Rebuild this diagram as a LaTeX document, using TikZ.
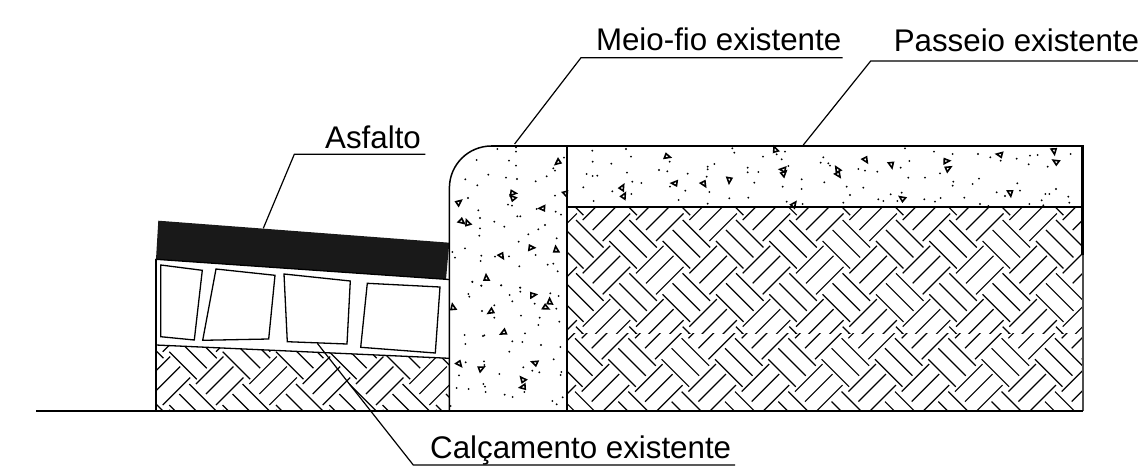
\documentclass[tikz,border=0pt]{standalone}
\usepackage{fontspec}
\setmainfont{Liberation Sans}
\tikzset{
  thinline/.style={line width=1.3pt,line cap=round,line join=round},
  wall/.style={line width=1.5pt,line join=round},
  heavy/.style={line width=2.6pt},
  leaderline/.style={line width=1.2pt,line join=miter},
  hatchline/.style={line width=1.2pt,line cap=butt},
  label/.style={inner sep=0pt,anchor=base west,font=\fontsize{31.3}{36}\selectfont},
  paver/.style={line width=1.3pt,line join=miter},
}
\newcommand{\hbone}[6]{%
  % tx ty imin imax jmin jmax
  \foreach \i in {#3,...,#4}{\foreach \j in {#5,...,#6}{%
    \pgfmathsetmacro{\px}{#1+\i*53.33}\pgfmathsetmacro{\py}{#2+\j*53.33}%
    \foreach \dx/\dy in {0/0,10/-11,20/-21}{\draw[hatchline] ({\px+\dx},{\py+\dy}) -- ++(27.5,27.5);}%
    \foreach \dx/\dy in {-26.6/-21,-16.6/-11,-6.6/0}{\draw[hatchline] ({\px+\dx},{\py+\dy}) -- ++(27.5,-27.5);}%
  }}}
\newcommand{\speckle}[3]{% ox oy list
  \foreach \a/\b in {#3}{\fill ({#1+\a/3},{#2+\b/3}) circle[radius=1.05pt];}}
\newcommand{\aggregate}[3]{%
  \foreach \a/\b in {#3}{%
    \pgfmathsetmacro{\r}{mod(\a*7+\b*13,360)}%
    \draw[line width=1.6pt,line join=miter] ({#1+\a/3},{#2+\b/3}) ++(\r:3.6) -- ++({\r+150}:6.2) -- ++({\r+270}:5) -- cycle;}}
\begin{document}
\begin{tikzpicture}[x=1pt,y=-1pt]
\useasboundingbox (0,0) rectangle (1138,474);
% --- hatch, right side
\begin{scope}
  \clip (567,207) rectangle (1082,333);
  \hbone{929.3}{241}{-8}{3}{-1}{3}
\end{scope}
\begin{scope}
  \clip (567,333) rectangle (1082,411);
  \hbone{928.3}{252.6}{-8}{3}{0}{4}
\end{scope}
% --- hatch, left side
\begin{scope}
  \clip (156,345) -- (449.3,358.3) -- (449.3,411) -- (156,411) -- cycle;
  \hbone{169.3}{351.7}{-1}{6}{-1}{2}
\end{scope}
% --- asphalt
\fill[black!90] (158.3,220.7) -- (449.3,242.7) -- (446,279.3) -- (156,259.3) -- cycle;
% --- paver bed
\draw[thinline] (156,259.3) -- (156,411);
\draw[thinline] (156,345) -- (449.3,358.3);
\draw[thinline] (156,259.3) -- (446,279.3) -- (449.3,279.5);
\foreach \pts in {
  {(160.7,265) -- (202.3,270.3) -- (194.3,340) -- (160.7,336.7) -- cycle},
  {(216,269) -- (275,275.3) -- (268.7,339) -- (202.7,340.3) -- cycle},
  {(284,274) -- (350.3,281) -- (347,344) -- (287.3,341.7) -- cycle},
  {(367.3,283.3) -- (440,287) -- (435.3,353) -- (360.7,347.3) -- cycle}}
  {\draw[paver] \pts;}
% --- curb outline
\draw[wall] (491.4,146) -- (567,146);
\draw[wall] (449.4,411) -- (449.4,188) arc[start angle=180,end angle=270,radius=42];
\draw[heavy] (566.8,146) -- (566.8,411);
% --- sidewalk outline
\draw[heavy] (565.5,146) -- (1084,146);
\draw[line width=2pt] (567,206.8) -- (1082,206.8);
\draw[heavy] (1082.7,146) -- (1082.7,255);
\draw[line width=1.6pt,black!70] (1082.7,255) -- (1082.7,411);
% --- base line
\draw[line width=1.6pt] (36,411) -- (1083,411);
\draw[line width=2.2pt] (619,411) -- (1083,411);
% --- concrete aggregate
\speckle{440}{130}{172/57,228/52,228/65,110/90,207/92,228/107,340/115,345/122,372/83,145/134,198/143,231/147,76/148,112/166,287/154,320/139,345/197,84/204,204/224,216/227,115/241,290/237,232/259,241/259,120/264,347/245,363/254,163/275,315/285,193/290,295/298,120/295,118/317,265/313,350/325,236/335,75/355,124/377,122/393,165/380,207/379,37/366,45/383,287/375,323/404,340/401,238/409,353/424,97/456,124/467,183/466,240/473,
457/62,558/57,573/80,458/95,514/101,689/95,803/110,823/102,803/118,657/120,682/124,561/128,743/131,440/132,458/138,472/137,800/140,923/113,923/127,955/126,577/155,604/159,430/172,517/184,574/192,690/170,736/182,808/186,943/158,461/213,716/210,868/205,925/203,803/221,883/68,877/55,969/80,1010/73}
\aggregate{440}{130}{355/97,218/188,218/205,55/217,308/236,65/273,82/280,273/352,347/360,185/376,138/445,378/190,
681/78,545/173,550/198,705/161,792/160,869/149,1005/60}
\speckle{440}{280}{97/5,137/0,124/17,184/16,241/23,241/35,85/42,88/50,209/45,217/64,331/40,356/48,284/71,163/76,349/86,126/93,163/113,243/107,299/113,295/135,358/125,74/165,133/166,129/168,255/160,76/192,217/184,247/186,303/195,361/201,208/215,341/238,132/244,77/247,133/255,250/262,277/272,298/277,364/276,362/285,57/286,178/282,130/312,135/320,50/324,86/327,137/336,194/344,218/351,253/336,368/352,337/363,350/373,32/378}
\aggregate{440}{280}{278/44,328/66,317/81,154/95,192/158,38/83,58/250,122/265,285/250,248/300,250/322}
\speckle{780}{130}{15/65,130/82,122/98,145/100,150/107,5/88,25/108,235/117,255/122,292/125,362/113,388/93,462/65,375/55,518/72,594/72,631/82,662/92,710/86,750/77,773/75,872/72,746/103,803/110,480/130,385/143,435/143,520/155,518/167,578/162,597/146,712/160,65/148,133/157,8/170,65/177,200/170,250/173,210/195,332/193,365/188,650/187,675/198,720/182,796/192,808/192,828/177,865/200,868/218,295/208,310/213,352/213,433/208,465/215,482/204,553/203,600/222,785/211,748/222,190/218,68/222,20/215,625/228,790/226}
\aggregate{780}{130}{10/120,10/130,172/120,175/132,257/88,335/103,498/92,503/115,660/75,823/62,828/97,692/188,367/207,40/224}
% --- labels
\node[label] (asf) at (325,148.3) {Asfalto};
\node[label] (mei) at (595.8,50) {Meio-fio existente};
\node[label] (pas) at (893.6,51.7) {Passeio existente};
\node[label] (cal) at (430,458.3) {Calçamento existente};
% --- leaders
\coordinate (a0) at (263.3,228.3); \coordinate (a1) at (294.3,154.3); \coordinate (a2) at (425.3,154.3);
\coordinate (m0) at (514.6,144);   \coordinate (m1) at (581,57.7);    \coordinate (m2) at (842.7,57.7);
\coordinate (p0) at (803.3,145);   \coordinate (p1) at (870.7,61);    \coordinate (p2) at (1138,61);
\coordinate (c0) at (317.3,343.3); \coordinate (c1) at (413.3,465);   \coordinate (c2) at (735,465);
\draw[leaderline] (a0) -- (a1) -- (a2);
\draw[leaderline] (m0) -- (m1) -- (m2);
\draw[leaderline] (p0) -- (p1) -- (p2);
\draw[leaderline] (c0) -- (c1) -- (c2);
\end{tikzpicture}
\end{document}
